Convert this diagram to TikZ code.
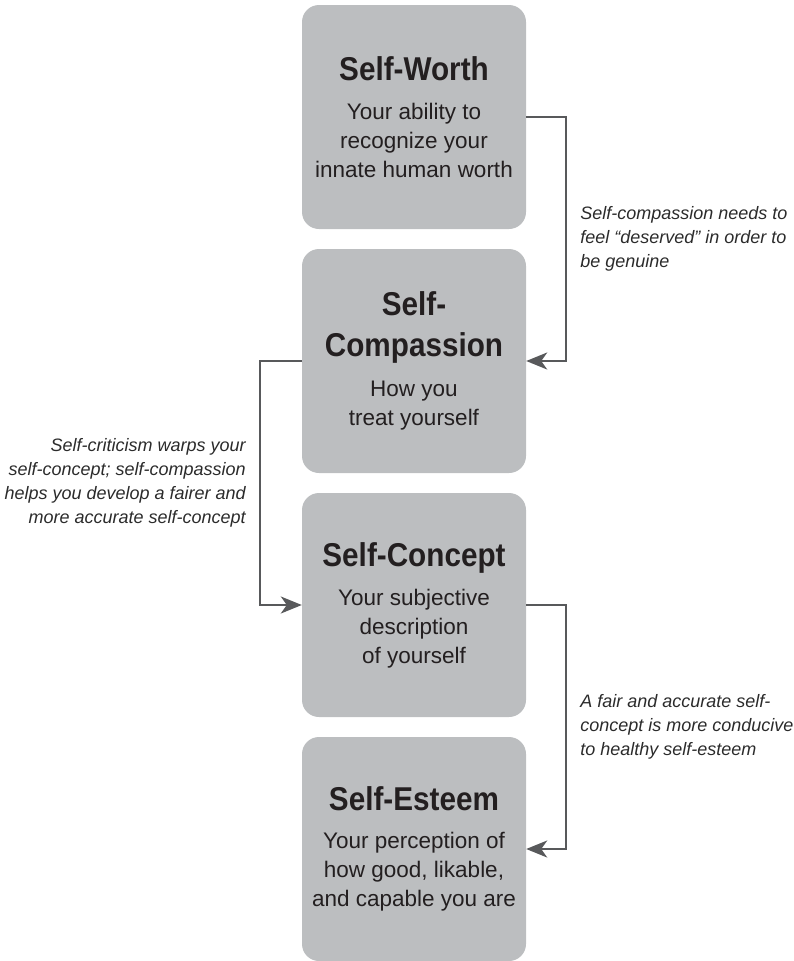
\documentclass[tikz,border=0pt]{standalone}
\usepackage{fontspec}
\setmainfont{Liberation Sans}
\newfontfamily\titlefont[FakeStretch=0.9]{Liberation Sans}
\usetikzlibrary{arrows.meta,positioning}

\definecolor{cardgray}{HTML}{BCBEC0}
\definecolor{inkdark}{HTML}{231F20}
\definecolor{linegray}{HTML}{58595B}
\definecolor{notegray}{HTML}{2B2B2B}

\newcommand{\cardtitle}{\titlefont\bfseries\fontsize{33}{41}\selectfont}

\tikzset{
	card/.style={rectangle, rounded corners=17pt, fill=cardgray, text=inkdark,
		minimum width=224pt, minimum height=224pt, inner sep=0pt, align=center,
		font=\fontsize{22.5}{29}\selectfont},
	note/.style={text=notegray, inner sep=0pt, font=\itshape\fontsize{18}{24}\selectfont},
	flow/.style={draw=linegray, line width=2.2pt, -{Stealth[length=21pt,width=17pt,inset=6pt]}}
}

\begin{document}
\begin{tikzpicture}[x=1pt,y=-1pt]
	\useasboundingbox (0,0) rectangle (794,961);
	% the four cards
	\node[card] (worth) at (414,117) {{\cardtitle Self-Worth}\\[10pt]Your ability to\\recognize your\\innate human worth};
	\node[card] (compassion) at (414,361) {{\cardtitle Self-}\\[12pt]{\cardtitle Compassion}\\[11pt]How you\\treat yourself};
	\node[card] (concept) at (414,605) {{\cardtitle Self-Concept}\\[10pt]Your subjective\\description\\of yourself};
	\node[card] (esteem) at (414,849) {{\cardtitle Self-Esteem}\\[9pt]Your perception of\\how good, likable,\\and capable you are};
	% links
	\draw[flow] (worth.east) -- ++(40,0) |- node[note, pos=0.25, right=13pt, align=left] (deserved) {Self-compassion needs to\\feel “deserved” in order to\\be genuine} (compassion.east);
	\draw[flow] (compassion.west) -- ++(-42,0) |- node[note, pos=0.25, left=13pt, align=right] (warps) {Self-criticism warps your\\self-concept; self-compassion\hspace*{5pt}\\helps you develop a fairer and\\more accurate self-concept} (concept.west);
	\draw[flow] (concept.east) -- ++(40,0) |- node[note, pos=0.25, right=13pt, align=left] (conducive) {A fair and accurate self-\\concept is more conducive\\to healthy self-esteem} (esteem.east);
\end{tikzpicture}
\end{document}
